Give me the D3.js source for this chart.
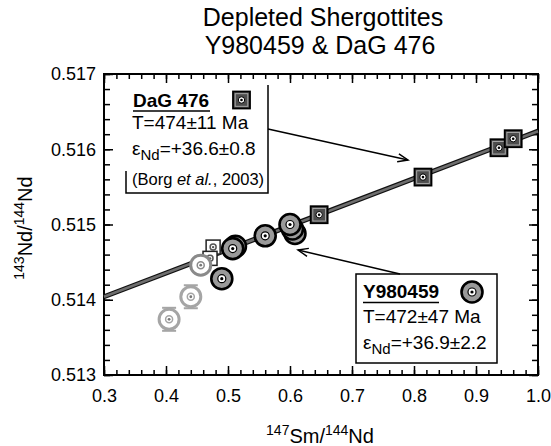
<!DOCTYPE html>
<html>
<head>
<meta charset="utf-8">
<script src="https://cdn.jsdelivr.net/npm/d3@7"></script>
<style>
  body { margin: 0; background: #fff; }
  text { font-family: "Liberation Sans", Arial, sans-serif; }
</style>
</head>
<body>
<div id="chart"></div>
<script>
// axis ticks
const xTicks = [0.3, 0.4, 0.5, 0.6, 0.7, 0.8, 0.9, 1.0];
const yTicks = [0.513, 0.514, 0.515, 0.516, 0.517];

// isochron end points
const isoX = [0.3, 1.0];
const isoY = [0.51404, 0.51624];

// DaG 476 (dark squares)
const dagX = [0.647, 0.8145, 0.937, 0.960];
const dagY = [0.51513, 0.51563, 0.51602, 0.51614];

// DaG 476 open squares
const openSqX = [0.476, 0.471];
const openSqY = [0.51470, 0.51455];

// Y980459 (grey circles)
const yamX = [0.490, 0.512, 0.5076, 0.560, 0.608, 0.604, 0.600];
const yamY = [0.51428, 0.51471, 0.51468, 0.51485, 0.51488, 0.51494, 0.51500];

// Y980459 pale circles
const paleX = [0.456, 0.440, 0.405];
const paleY = [0.51446, 0.51404, 0.51374];

var margin = {top: 74, right: 13, bottom: 71, left: 104},
    width = 551,
    height = 446;

var svg = d3.select("#chart")
  .append("svg")
    .attr("width", width)
    .attr("height", height);

var x = d3.scaleLinear().domain([0.3, 1.0]).range([margin.left, width - margin.right]);
var y = d3.scaleLinear().domain([0.513, 0.517]).range([height - margin.bottom, margin.top]);

const x0 = x.range()[0], x1 = x.range()[1];
const y0 = y.range()[0], y1 = y.range()[1];

const xMinor = d3.range(0, 36).map(i => 0.3 + i * 0.02);
const yMinor = d3.range(0, 21).map(i => 0.513 + i * 0.0002);

function styleAxis(g) {
  g.select(".domain").remove();
  g.selectAll(".tick line").attr("stroke", "#000").attr("stroke-width", 1.5);
  g.attr("font-size", 18).attr("font-family", "Liberation Sans, Arial, sans-serif");
  g.selectAll("text").attr("fill", "#000");
}

// minor ticks, all four sides
svg.append("g").attr("transform", "translate(0," + y0 + ")")
  .call(d3.axisBottom(x).tickValues(xMinor).tickSize(-5).tickFormat(""))
  .call(styleAxis);
svg.append("g").attr("transform", "translate(0," + y1 + ")")
  .call(d3.axisTop(x).tickValues(xMinor).tickSize(-5).tickFormat(""))
  .call(styleAxis);
svg.append("g").attr("transform", "translate(" + x0 + ",0)")
  .call(d3.axisLeft(y).tickValues(yMinor).tickSize(-6).tickFormat(""))
  .call(styleAxis);
svg.append("g").attr("transform", "translate(" + x1 + ",0)")
  .call(d3.axisRight(y).tickValues(yMinor).tickSize(-6).tickFormat(""))
  .call(styleAxis);

// major ticks with labels
svg.append("g").attr("transform", "translate(0," + y0 + ")")
  .call(d3.axisBottom(x).tickValues(xTicks).tickSize(-9).tickPadding(14).tickFormat(d3.format(".1f")))
  .call(styleAxis);
svg.append("g").attr("transform", "translate(0," + y1 + ")")
  .call(d3.axisTop(x).tickValues(xTicks).tickSize(-9).tickFormat(""))
  .call(styleAxis);
svg.append("g").attr("transform", "translate(" + x0 + ",0)")
  .call(d3.axisLeft(y).tickValues(yTicks).tickSize(-9).tickPadding(8).tickFormat(d3.format(".3f")))
  .call(styleAxis);
svg.append("g").attr("transform", "translate(" + x1 + ",0)")
  .call(d3.axisRight(y).tickValues(yTicks).tickSize(-9).tickFormat(""))
  .call(styleAxis);

// frame
svg.append("rect")
  .attr("x", x0).attr("y", y1)
  .attr("width", x1 - x0).attr("height", y0 - y1)
  .attr("fill", "none").attr("stroke", "#000").attr("stroke-width", 2);

// title
svg.append("text").attr("x", 323).attr("y", 26).attr("text-anchor", "middle")
  .attr("font-size", 25).text("Depleted Shergottites");
svg.append("text").attr("x", 320).attr("y", 54).attr("text-anchor", "middle")
  .attr("font-size", 25).text("Y980459 & DaG 476");

// axis titles
var xt = svg.append("text").attr("x", 320).attr("y", 443).attr("text-anchor", "middle").attr("font-size", 20);
xt.append("tspan").attr("font-size", 14).attr("dy", -8).text("147");
xt.append("tspan").attr("dy", 8).text("Sm/");
xt.append("tspan").attr("font-size", 14).attr("dy", -8).text("144");
xt.append("tspan").attr("dy", 8).text("Nd");

var yt = svg.append("text").attr("transform", "translate(32,228) rotate(-90)")
  .attr("text-anchor", "middle").attr("font-size", 20);
yt.append("tspan").attr("font-size", 14).attr("dy", -8).text("143");
yt.append("tspan").attr("dy", 8).text("Nd/");
yt.append("tspan").attr("font-size", 14).attr("dy", -8).text("144");
yt.append("tspan").attr("dy", 8).text("Nd");

// isochron
var isoLine = d3.line().x(d => x(d[0])).y(d => y(d[1]));
var isoData = d3.zip(isoX, isoY);
svg.append("path").attr("d", isoLine(isoData))
  .attr("stroke", "#111").attr("stroke-width", 5).attr("fill", "none");
svg.append("path").attr("d", isoLine(isoData))
  .attr("stroke", "#6e6e6e").attr("stroke-width", 2.6).attr("fill", "none");

// markers
function squareMark(g, cx, cy, s) {
  g.append("rect").attr("x", cx - s / 2).attr("y", cy - s / 2).attr("width", s).attr("height", s)
    .attr("fill", "#4d4d4d").attr("stroke", "#000").attr("stroke-width", 1.8);
  g.append("rect").attr("x", cx - s / 2 + 2.2).attr("y", cy - s / 2 + 2.2).attr("width", s - 4.4).attr("height", s - 4.4)
    .attr("fill", "none").attr("stroke", "#b0b0b0").attr("stroke-width", 0.9);
  g.append("circle").attr("cx", cx).attr("cy", cy).attr("r", 3.2)
    .attr("fill", "#fff").attr("stroke", "#000").attr("stroke-width", 1);
  g.append("circle").attr("cx", cx).attr("cy", cy).attr("r", 1.3).attr("fill", "#000");
}

function openSquareMark(g, cx, cy, s) {
  g.append("rect").attr("x", cx - s / 2).attr("y", cy - s / 2).attr("width", s).attr("height", s)
    .attr("fill", "#fff").attr("stroke", "#222").attr("stroke-width", 1.5);
  g.append("circle").attr("cx", cx).attr("cy", cy).attr("r", 3)
    .attr("fill", "#fff").attr("stroke", "#555").attr("stroke-width", 1.5);
  g.append("circle").attr("cx", cx).attr("cy", cy).attr("r", 1.2).attr("fill", "#555");
}

function circleMark(g, cx, cy, r) {
  g.append("circle").attr("cx", cx).attr("cy", cy).attr("r", r)
    .attr("fill", "#9a9a9a").attr("stroke", "#000").attr("stroke-width", 2.6);
  g.append("circle").attr("cx", cx).attr("cy", cy).attr("r", 4)
    .attr("fill", "#fff").attr("stroke", "#000").attr("stroke-width", 1.2);
  g.append("circle").attr("cx", cx).attr("cy", cy).attr("r", 1.6).attr("fill", "#000");
}

function paleMark(g, cx, cy, r, front) {
  var c = front ? "#8a8a8a" : "#a5a5a5";
  if (!front) {
    [-1, 1].forEach(k => {
      g.append("line").attr("x1", cx - 7).attr("x2", cx + 7)
        .attr("y1", cy + k * (r + 1.5)).attr("y2", cy + k * (r + 1.5))
        .attr("stroke", c).attr("stroke-width", 2);
    });
  }
  g.append("circle").attr("cx", cx).attr("cy", cy).attr("r", r)
    .attr("fill", "#fff").attr("stroke", c).attr("stroke-width", 3);
  g.append("circle").attr("cx", cx).attr("cy", cy).attr("r", 3.5)
    .attr("fill", "#fff").attr("stroke", c).attr("stroke-width", 1.5);
  g.append("circle").attr("cx", cx).attr("cy", cy).attr("r", 1.4).attr("fill", "#777");
}

var pts = svg.append("g");
paleX.forEach((d, i) => { if (i > 0) paleMark(pts, x(d), y(paleY[i]), 10, false); });
openSqX.forEach((d, i) => openSquareMark(pts, x(d), y(openSqY[i]), 14));
paleMark(pts, x(paleX[0]), y(paleY[0]), 10, true);
dagX.forEach((d, i) => squareMark(pts, x(d), y(dagY[i]), 17));
yamX.forEach((d, i) => circleMark(pts, x(d), y(yamY[i]), 10.5));

// arrows
function arrow(g, ax, ay, bx, by) {
  g.append("line").attr("x1", ax).attr("y1", ay).attr("x2", bx).attr("y2", by)
    .attr("stroke", "#000").attr("stroke-width", 1.5);
  var ang = Math.atan2(by - ay, bx - ax), L = 11, sp = 0.38;
  var p = d3.path();
  p.moveTo(bx - L * Math.cos(ang - sp), by - L * Math.sin(ang - sp));
  p.lineTo(bx, by);
  p.lineTo(bx - L * Math.cos(ang + sp), by - L * Math.sin(ang + sp));
  g.append("path").attr("d", p.toString()).attr("fill", "none")
    .attr("stroke", "#000").attr("stroke-width", 1.5);
}

// legend: DaG 476
var lg1 = svg.append("g");
lg1.append("path").attr("d", "M268,85 V193 H126 V171")
  .attr("fill", "none").attr("stroke", "#000").attr("stroke-width", 1.5);
lg1.append("text").attr("x", 133).attr("y", 107).attr("font-size", 19).attr("font-weight", "bold").text("DaG 476");
lg1.append("line").attr("x1", 133).attr("x2", 210).attr("y1", 111).attr("y2", 111)
  .attr("stroke", "#000").attr("stroke-width", 1.6);
squareMark(lg1, 241.5, 100, 17);
lg1.append("text").attr("x", 132).attr("y", 129).attr("font-size", 19).text("T=474±11 Ma");
var e1 = lg1.append("text").attr("x", 132).attr("y", 155).attr("font-size", 19);
e1.append("tspan").text("ε");
e1.append("tspan").attr("font-size", 15).attr("dy", 5).text("Nd");
e1.append("tspan").attr("dy", -5).text("=+36.6±0.8");
var b1 = lg1.append("text").attr("x", 132).attr("y", 185).attr("font-size", 16.5);
b1.append("tspan").text("(Borg ");
b1.append("tspan").attr("font-style", "italic").text("et al.");
b1.append("tspan").text(", 2003)");
arrow(svg, 268, 129, 408, 160);

// legend: Y980459
var lg2 = svg.append("g");
lg2.append("rect").attr("x", 356).attr("y", 274).attr("width", 141).attr("height", 89)
  .attr("fill", "#fff").attr("stroke", "#000").attr("stroke-width", 1.5);
lg2.append("text").attr("x", 363).attr("y", 298).attr("font-size", 19).attr("font-weight", "bold").text("Y980459");
lg2.append("line").attr("x1", 363).attr("x2", 439).attr("y1", 302.5).attr("y2", 302.5)
  .attr("stroke", "#000").attr("stroke-width", 1.6);
circleMark(lg2, 472, 292, 10.5);
lg2.append("text").attr("x", 363).attr("y", 323).attr("font-size", 19).text("T=472±47 Ma");
var e2 = lg2.append("text").attr("x", 363).attr("y", 349).attr("font-size", 19);
e2.append("tspan").text("ε");
e2.append("tspan").attr("font-size", 15).attr("dy", 5).text("Nd");
e2.append("tspan").attr("dy", -5).text("=+36.9±2.2");
arrow(svg, 400, 274, 298, 250);
</script>
</body>
</html>
